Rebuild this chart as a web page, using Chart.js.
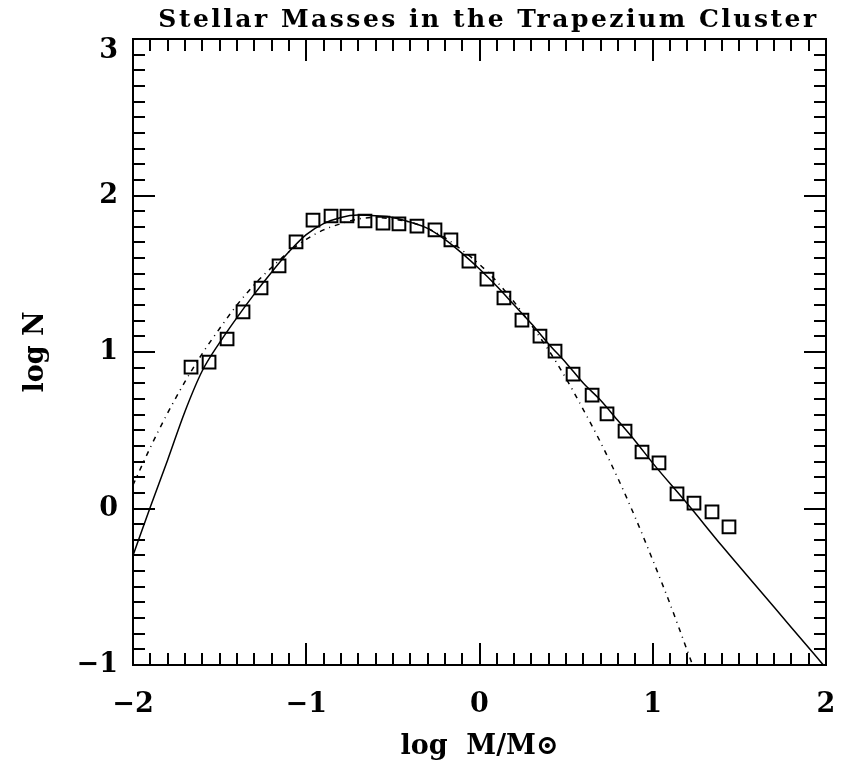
<!DOCTYPE html>
<html><head><meta charset="utf-8">
<script src="https://cdn.jsdelivr.net/npm/chart.js@4.4.0/dist/chart.umd.min.js"></script>
<style>html,body{margin:0;padding:0;background:#fff}#wrap{width:848px;height:766px}</style>
</head><body><div id="wrap"><canvas id="c" width="848" height="766"></canvas></div>
<script>
// ---- text ----
const chartTitle = 'Stellar Masses in the Trapezium Cluster';
const xAxisTitle = 'log  M/M\u2299';
const yAxisTitle = 'log N';
const xTickValues = [-2, -1, 0, 1, 2];
const yTickValues = [-1, 0, 1, 2, 3];

// ---- observed points (log M, log N) ----
const massLog = [-1.665, -1.561, -1.457, -1.365, -1.261, -1.157, -1.059, -0.961, -0.857, -0.765,
  -0.661, -0.557, -0.465, -0.361, -0.257, -0.165, -0.061, 0.043, 0.141, 0.245,
  0.349, 0.436, 0.540, 0.650, 0.736, 0.840, 0.938, 1.036, 1.140, 1.238, 1.342, 1.440];
const countLog = [0.904, 0.936, 1.083, 1.256, 1.409, 1.550, 1.703, 1.843, 1.869, 1.869,
  1.837, 1.824, 1.818, 1.805, 1.780, 1.716, 1.581, 1.466, 1.345, 1.204,
  1.102, 1.006, 0.859, 0.725, 0.604, 0.495, 0.361, 0.291, 0.093, 0.035, -0.022, -0.118];

// ---- solid model curve ----
const solidX = [-2.0, -1.9, -1.8, -1.7, -1.6, -1.5, -1.4, -1.3, -1.2, -1.1, -1.0, -0.9, -0.8, -0.7,
  -0.6, -0.5, -0.4, -0.3, -0.2, -0.1, 0.0, 0.1, 0.2, 0.3, 0.4, 0.5, 0.6, 0.7, 0.8, 0.9, 1.0,
  1.2, 1.4, 1.6, 1.8, 2.0];
const solidY = [-0.30, 0.01, 0.31, 0.62, 0.88, 1.06, 1.22, 1.37, 1.51, 1.64, 1.75, 1.82, 1.86, 1.875,
  1.87, 1.86, 1.83, 1.79, 1.72, 1.63, 1.53, 1.42, 1.30, 1.18, 1.05, 0.93, 0.80, 0.69, 0.56, 0.43, 0.29,
  0.03, -0.24, -0.50, -0.76, -1.02];

// ---- dash-dot model curve ----
const dashX = [-2.0, -1.9, -1.8, -1.7, -1.6, -1.5, -1.4, -1.3, -1.2, -1.1, -1.0, -0.9, -0.8, -0.7,
  -0.6, -0.5, -0.4, -0.3, -0.2, -0.1, 0.0, 0.1, 0.2, 0.3, 0.4, 0.5, 0.6, 0.7, 0.8, 0.9, 1.0,
  1.1, 1.2, 1.25];
const dashY = [0.15, 0.39, 0.61, 0.81, 0.99, 1.15, 1.30, 1.43, 1.54, 1.64, 1.72, 1.78, 1.82, 1.85,
  1.86, 1.85, 1.83, 1.79, 1.73, 1.65, 1.56, 1.45, 1.32, 1.17, 1.01, 0.83, 0.63, 0.42, 0.19, -0.06, -0.33,
  -0.61, -0.91, -1.06];

const pts = (xs, ys) => xs.map((x, i) => ({x: x, y: ys[i]}));
const fmt = v => (v < 0 ? '\u2212' + Math.abs(v) : String(v));
const tickFont = {family: "'DejaVu Serif', serif", size: 27, weight: 'bold'};
const topTickFont = {family: "'DejaVu Serif', serif", size: 27, weight: 'bold', lineHeight: 0.88};

const frameTicks = {
  id: 'frameTicks',
  beforeDatasetsDraw(chart) {
    const {ctx, chartArea: {left, right, top, bottom}, scales: {x, y}} = chart;
    ctx.save();
    ctx.strokeStyle = '#000';
    ctx.lineWidth = 2;
    ctx.beginPath();
    for (let k = -20; k <= 20; k++) {
      const px = Math.round(x.getPixelForValue(k / 10));
      const len = (k % 10 === 0) ? 22 : 12;
      ctx.moveTo(px, bottom); ctx.lineTo(px, bottom - len);
      ctx.moveTo(px, top); ctx.lineTo(px, top + len);
    }
    for (let k = -10; k <= 30; k++) {
      const py = Math.round(y.getPixelForValue(k / 10));
      const len = (k % 10 === 0) ? 22 : 12;
      ctx.moveTo(left, py); ctx.lineTo(left + len, py);
      ctx.moveTo(right, py); ctx.lineTo(right - len, py);
    }
    ctx.stroke();
    ctx.strokeRect(left, top, right - left, bottom - top);
    ctx.restore();
  }
};

const chart = new Chart(document.getElementById('c'), {
  type: 'scatter',
  data: {
    datasets: [
      {
        label: 'solid', data: pts(solidX, solidY), showLine: true,
        borderColor: '#000', borderWidth: 1.5, pointRadius: 0, cubicInterpolationMode: 'monotone', order: 3
      },
      {
        label: 'dashdot', data: pts(dashX, dashY), showLine: true,
        borderColor: '#000', borderWidth: 1.5, borderDash: [5, 5, 1, 5], pointRadius: 0,
        cubicInterpolationMode: 'monotone', order: 2
      },
      {
        label: 'data', data: pts(massLog, countLog), showLine: false,
        pointStyle: 'rect', pointRadius: 9, pointBorderWidth: 2,
        pointBorderColor: '#000', pointBackgroundColor: 'rgba(0,0,0,0)', order: 1
      }
    ]
  },
  options: {
    responsive: false,
    animation: false,
    events: [],
    layout: {padding: {left: 0, right: 22, top: 0, bottom: 0}},
    plugins: {
      legend: {display: false},
      tooltip: {enabled: false},
      title: {
        display: true, text: chartTitle, fullSize: false, color: '#000',
        font: {family: "'DejaVu Serif', serif", size: 25, weight: 'bold'},
        padding: {top: 5, bottom: 4}
      }
    },
    scales: {
      x: {
        type: 'linear', min: -2, max: 2,
        afterBuildTicks: s => { s.ticks = xTickValues.map(v => ({value: v})); },
        afterFit: s => { s.height = 101; s.paddingLeft = 0; s.paddingRight = 0; },
        grid: {display: false, drawTicks: false}, border: {display: false},
        ticks: {callback: fmt, font: tickFont, color: '#000', padding: 24, maxRotation: 0, autoSkip: false},
        title: {display: true, text: xAxisTitle, color: '#000', font: tickFont, padding: {top: 0, bottom: 3}}
      },
      y: {
        type: 'linear', min: -1, max: 3,
        afterBuildTicks: s => { s.ticks = yTickValues.map(v => ({value: v})); },
        afterFit: s => { s.width = 133; s.paddingTop = 0; s.paddingBottom = 0; },
        grid: {display: false, drawTicks: false}, border: {display: false},
        ticks: {
          callback: v => (v === 3 ? ['', fmt(v)] : fmt(v)),
          font: c => (c.tick && c.tick.value === 3 ? topTickFont : tickFont),
          color: '#000', padding: 15, autoSkip: false
        },
        title: {display: true, text: yAxisTitle, color: '#000', font: tickFont, padding: {top: 20, bottom: 0}}
      }
    }
  },
  plugins: [frameTicks]
});

const tb = chart.titleBlock;
if (tb) {
  const origDraw = tb.draw.bind(tb);
  tb.draw = function () {
    const ctx = chart.ctx;
    const prev = ctx.letterSpacing;
    ctx.save();
    ctx.translate(9, 0);
    try { ctx.letterSpacing = '2.5px'; } catch (e) {}
    origDraw();
    ctx.restore();
    try { ctx.letterSpacing = prev || '0px'; } catch (e) {}
  };
  chart.draw();
}
</script>
</body></html>
